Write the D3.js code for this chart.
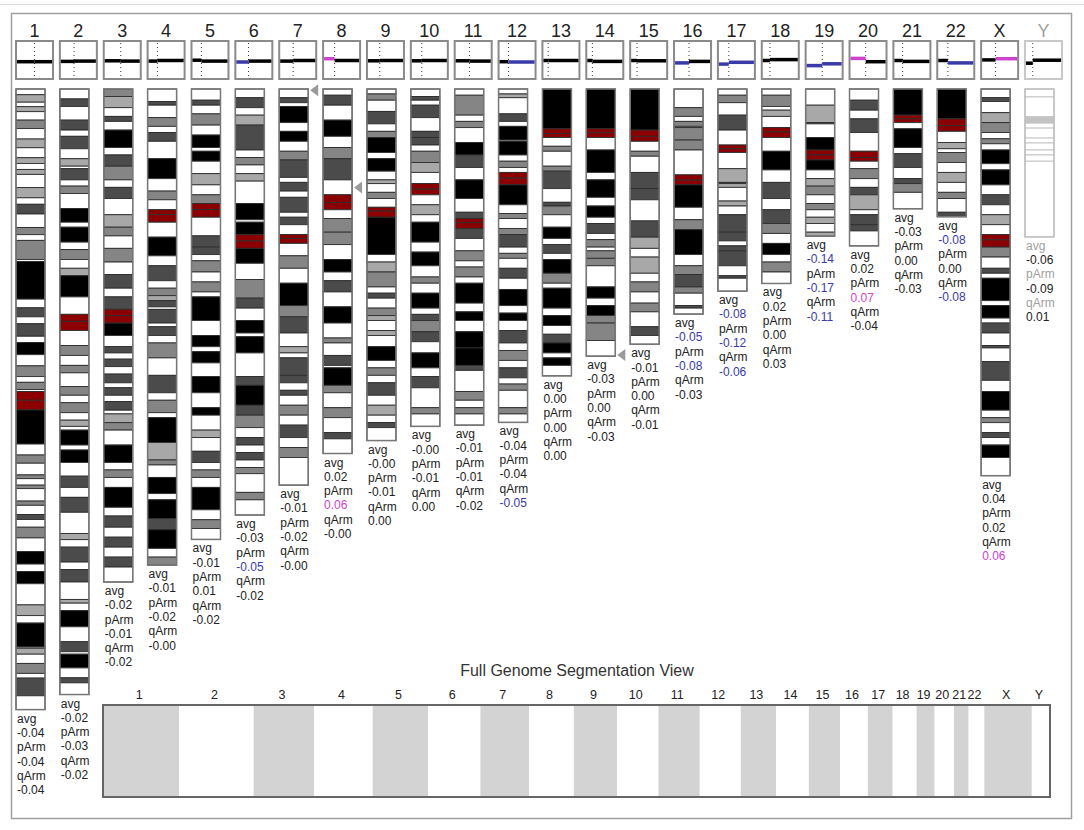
<!DOCTYPE html>
<html>
<head>
<meta charset="utf-8">
<script src="https://cdn.jsdelivr.net/npm/d3@7"></script>
<style>
body { margin: 0; background: #fff; }
svg { display: block; font-family: Arial, "Liberation Sans", sans-serif; }
</style>
</head>
<body>
<div id="karyogram"></div>
<script>
"use strict";

const chromNames = ["1", "2", "3", "4", "5", "6", "7", "8", "9", "10", "11", "12",
    "13", "14", "15", "16", "17", "18", "19", "20", "21", "22", "X", "Y"];

// lengths and centromeres in Mb
const chromLengths = [249.25, 243.2, 198.0, 191.2, 180.9, 171.1, 159.1, 146.4, 141.2, 135.5,
    135.0, 133.9, 115.2, 107.3, 102.5, 90.4, 81.2, 78.1, 59.1, 63.0, 48.1, 51.3, 155.3, 59.4];
const centromeres = [125.0, 93.3, 91.0, 50.4, 48.4, 61.0, 60.0, 45.6, 49.0, 40.2,
    53.7, 35.8, 17.9, 17.6, 19.0, 36.6, 24.0, 17.2, 26.5, 27.5, 12.0, 14.7, 60.6, 12.5];

// stain code + band end (Mb): n=gneg a=gpos25 m=gpos50 d=gpos75 b=gpos100/gvar c=acen
const bandStrings = [
    "n2.3 a5.3 n7.1 a9.1 n12.5 m15.9 n20.1 a23.6 n27.6 a29.9 n32.3 a34.3 n39.6 a43.7 n46.3 d50.2 n55.6 m58.5 n60.8 m68.5 n69.3 b84.4 n87.9 d91.5 n94.3 d99.3 n101.8 b106.7 n111.2 m115.5 n117.8 m120.7 n121.5 c125 c128.9 b142.6 n147 m150.3 n155 m156.5 n159.1 m160.5 n165.5 m167.2 n170.9 d172.9 n176 m180.3 n185.8 b190.8 n193.8 b198.7 n207.2 a211.5 n214.5 b224.1 n224.6 a227 n230.7 m234.7 n236.6 d243.7 n249.25",
    "n4 d7 n12.5 d16.5 n19 d24 n28 a31 n32 d36.5 n39 m42 n48 b53.5 n55.5 b61.5 n64.5 m68.5 n72 a75 b83.5 n90.5 c93.3 c97 n103 m107 n111 m114 n119.5 m123 n126 m130 n133 a135.5 n137 b143 n145 b150 n155.5 d160 n164 d170 n178.5 a181 n184 d190 n193 d198 n205 a206.5 n209.5 b216 n222 d226 n227 b232.5 n236.5 d238.5 n243.2",
    "m3 a7.5 n11 d13 n16.5 b23.5 n26.5 d31 m36.5 n39.5 d44 n50.5 a55.5 m59 n64 m69.5 n74.5 d80 n83.5 d88.5 c91 c94 b99 n103.5 d106 n108.5 d111.5 n114.5 d118 n120 d123 n125.5 d129 n130.5 a134 m137 n143 b150 n153 m156 n160 b168 n171.5 d176 n180 d184 n188 d192 n198",
    "n5 d6.5 n11.5 m15 n17.5 d21 n28 b36 n41 m44.5 n48.5 c50.4 c53.5 n59.5 b67 n71 d77 n80 m83 a85 d87.5 n88.5 d94 n95.5 d99 n102 m108 n115 d122 n125 m130 n132 b142 a149 m151 n156 b162.5 n165 b172.5 d177 b184.5 n188 m191.2",
    "n4.5 d6.5 n10 m14.5 n18.5 b23.5 n25 b29 n34 a38.5 n42.5 m46 c48.4 c51.5 n59 d63.5 d66.5 n69 m73.5 n77.5 m81.5 n83.5 b93 n99 b103.5 n105.5 b110 n115.5 b122 n128 b131 n137 a140 n145.5 d150 n153 m156 n160 b169 n173 m176.5 n180.9",
    "n3.5 d7.5 n10.5 a14.5 d24.5 n27.5 m30.5 n34 a37 n46 b52.5 n53.5 b58.5 c61 c64 b70 n76.5 m84 d88 n93 b98 n99.5 b106 n115.5 d119 b127 d131 m136 n140 d143 n146 d149 n152 m154.5 n162 m165 n171.1",
    "n3.5 d5.5 n7 b13.5 n17 b21 n25 m28.5 d35.5 n37.5 d41 n43.5 d49.5 n51.5 d54.5 n58.5 c60 c62 n67 m72 n78 b87 m91.5 d98 n103.5 a106 n108 d115 d118 n121 d123 n127 m131 n135 d140 n144 m148 n159.1",
    "n2.5 d6.5 n12.5 b19 n23.5 m28 d36.5 n42.5 c45.6 c48.5 n52 m57.5 m62.5 n68.5 b73.5 n77 d81.5 n87.5 b94 n100 m102 n107 d111 n112 b119 m122 n128 m132 n138 d140.5 n146.4",
    "n2 m4.5 n9 d14 n17 m19.5 b25.5 n28 b33 n36.5 a38 n41.5 m44 n47.5 c49 c51.5 b66.5 n69.5 a73.5 m79.5 n82 d84 n88 m91 a93 n97 a99 n103.5 b109 n112 m115 n118 d123 n127 a131 n134 d136 n141.2",
    "n3 d4.5 n6.5 d11.5 n17 d19.5 d22.5 n25 m29.5 a33.5 n38 c40.2 c42.5 n46.5 a50.5 n53.5 b61.5 n65.5 b71 n75.5 m78 n82 b88 n90.5 d93 m97.5 d101.5 n106 b112 n115.5 d120 n128 m130.5 n135.5",
    "n2.5 m10.5 n13 m15.5 n21.5 b26.5 d31.5 n36.5 b44 n49.5 d52 c53.7 c56 d60 n65 m69 n71.5 m75.5 n78 b86 n89.5 b93 n97.5 b104 b111 d113 n121.5 m125 n128 m130.5 n135",
    "n2 a3.5 n10 d13 n15 b20.5 n21 b26.5 n29 m31.5 n33.5 c35.8 c38.5 b46.5 n50 m52 n56 m58.5 d63.5 n66 m68 n72 d76 n80.5 b87 n90 b93 n97 d102 n105 m109 n112 d116 n118.5 m121 n128 m130.5 n133.9",
    "b16 c17.9 c19.5 n23 m25 n31 m33 d40 n45.5 d47 m50.5 n55.5 b60 n62.5 d66 n68.5 b74 m78 n80 b88 n91 b95 n98.5 d102 b106 n108 b111 n115.2",
    "b16 c17.6 c19.5 n24.5 b33.5 n36.5 b43.5 n47 b51.5 n54 d58 n60.5 m63.5 n65 m68 m71 n79.5 b84 n87 b91 m94 m101 n107.3",
    "b16.5 c19 c21 n25 m27 n33.5 d40 d44.5 n53 d59.5 a64 n67.5 a74 n77.5 m81.5 n86 m89.5 n95.5 d99 n102.5",
    "n7.5 m11 n13 m15 n15.5 m20.5 m24.5 n34.5 c36.6 c38.5 b47.5 n52.5 m56.5 b66.5 n71 m74.5 d79.5 m82 n87 d88 n90.4",
    "n2.5 m5.5 n10.5 d16.5 n22.5 c24 c25.5 n32 a37.5 d38 a39.5 n45 a47 n50.5 d57.5 d61 n63 d65 d71 n75 d76 n81.2",
    "n2.5 m7 n8.5 a11 n15.5 c17.2 c19.5 n25 b32.5 n37.5 d44 n48.5 d54 m58 n62 b66.5 n69.5 m73.5 n78.1",
    "n6.5 a13.5 d14 n19.5 b24.5 c26.5 c28.5 b32.5 n36 a39 m42.5 n46 m48.5 n51.5 a54 n57.5 a59.1",
    "n4.5 d8.5 n12 d17.5 n25 c27.5 c29 n32 m36 n39.5 d42.5 a48.5 n50.5 d54.5 d57 n63",
    "b10.5 c12 c13.5 n16 b23.5 n26 d31.5 n36 d38 m41.5 n48.1",
    "b12 c14.7 c17 n21.5 a24 n25.5 m29.5 n33.5 a37.5 n41.5 m44 n49.5 d51.3",
    "n3.5 d5 n9.5 a13.5 m17.5 n20 m22 n24.5 b30 n32.5 b38.5 n42.5 d46.5 n50.5 a54.5 n58.5 c60.6 c63.5 m67.5 n72 d74 n76 b85 n87 b92 n94 d98 n103 d104 n109.5 d117 n121.5 b129 n132 m134 n138 d140 n143 b148 n155.3",
    "n3.2 n11.2 a12.5 a13.7 n15.7 n19.7 n21.7 n24.5 n26.5 n29 n59.4"
];

const avgValues = ["-0.04", "-0.02", "-0.02", "-0.01", "-0.01", "-0.03", "-0.01", "0.02", "-0.00", "-0.00",
    "-0.01", "-0.04", "0.00", "-0.03", "-0.01", "-0.05", "-0.08", "0.02", "-0.14", "0.02", "-0.03", "-0.08", "0.04", "-0.06"];
const pArmValues = ["-0.04", "-0.03", "-0.01", "-0.02", "0.01", "-0.05", "-0.02", "0.06", "-0.01", "-0.01",
    "-0.01", "-0.04", "0.00", "0.00", "0.00", "-0.08", "-0.12", "0.00", "-0.17", "0.07", "0.00", "0.00", "0.02", "-0.09"];
const qArmValues = ["-0.04", "-0.02", "-0.02", "-0.00", "-0.02", "-0.02", "-0.00", "-0.00", "0.00", "0.00",
    "-0.02", "-0.05", "0.00", "-0.03", "-0.01", "-0.03", "-0.06", "0.03", "-0.11", "-0.04", "-0.03", "-0.08", "0.06", "0.01"];

const fadedChroms = ["Y"];
const markerChroms = ["7", "8", "14"];
const markerPositions = [0.5, 39.6, 106.8];

const stainColors = { n: "#ffffff", a: "#a8a8a8", m: "#858585", d: "#4b4b4b", b: "#000000", c: "#8b0000" };
const lossColor = "#3a3aa8";
const gainColor = "#cc44cc";
const threshold = 0.05;

const width = 1084;
const height = 830;
const boxW = 37;
const boxTop = 41;
const boxH = 38;
const barW = 29;

function parseBands(str) {
    let start = 0;
    return str.split(" ").map(tok => {
        const end = +tok.slice(1);
        const band = { stain: tok[0], start: start, end: end };
        start = end;
        return band;
    });
}

function valueColor(v, faded) {
    const n = +v;
    if (faded) return "#222";
    if (n <= -threshold) return lossColor;
    if (n >= threshold) return gainColor;
    return "#222";
}

const svg = d3.select("#karyogram")
    .append("svg")
    .attr("width", width)
    .attr("height", height);

svg.append("line")
    .attr("x1", 0).attr("x2", width)
    .attr("y1", 4.5).attr("y2", 4.5)
    .attr("stroke", "#dddddd");

svg.append("rect")
    .attr("x", 11.5).attr("y", 13.5)
    .attr("width", 1060).attr("height", 805)
    .attr("fill", "none")
    .attr("stroke", "#a0a0a0")
    .attr("stroke-width", 1.5);

const xScale = d3.scaleLinear().domain([0, chromNames.length - 1]).range([16, 1025]);
const yScale = d3.scaleLinear().domain([0, chromLengths[0]]).range([89, 709.6]);
const segScale = d3.scaleLinear().domain([-1, 1]).range([boxTop + 19.5 + 30, boxTop + 19.5 - 30]);

chromNames.forEach((name, i) => {
    const left = xScale(i);
    const len = chromLengths[i];
    const faded = fadedChroms.includes(name);
    const g = svg.append("g").attr("class", "chrom chr-" + name);

    // chromosome label
    g.append("text")
        .attr("x", left + boxW / 2)
        .attr("y", 37)
        .attr("text-anchor", "middle")
        .attr("font-size", 18)
        .attr("fill", faded ? "#a0a0a0" : "#222")
        .text(name);

    // mini segmentation box
    const segX = d3.scaleLinear().domain([0, len]).range([left, left + boxW]);
    g.append("rect")
        .attr("x", left).attr("y", boxTop)
        .attr("width", boxW).attr("height", boxH)
        .attr("fill", "#fff")
        .attr("stroke", faded ? "#c8c8c8" : "#8a8a8a")
        .attr("stroke-width", 2);
    g.append("line")
        .attr("x1", segX(centromeres[i])).attr("x2", segX(centromeres[i]))
        .attr("y1", boxTop + 2).attr("y2", boxTop + boxH - 1)
        .attr("stroke", "#333")
        .attr("stroke-dasharray", "1,3");

    const segments = [
        { from: 0, to: centromeres[i], v: pArmValues[i] },
        { from: centromeres[i], to: len, v: qArmValues[i] }
    ];
    g.selectAll("line.seg")
        .data(segments)
        .enter()
        .append("line")
        .attr("class", "seg")
        .attr("x1", d => segX(d.from) + (d.from === 0 ? 1 : 0))
        .attr("x2", d => segX(d.to) - (d.to === len ? 1 : 0))
        .attr("y1", d => segScale(+d.v))
        .attr("y2", d => segScale(+d.v))
        .attr("stroke", d => {
            const c = valueColor(d.v, faded);
            return c === "#222" ? "#000" : c;
        })
        .attr("stroke-width", 3.5);

    // ideogram bands
    const bands = parseBands(bandStrings[i]);
    g.selectAll("rect.band")
        .data(bands)
        .enter()
        .append("rect")
        .attr("class", "band")
        .attr("x", left)
        .attr("y", d => yScale(d.start))
        .attr("width", barW)
        .attr("height", d => yScale(d.end) - yScale(d.start))
        .attr("fill", d => faded && d.stain !== "n" ? "#c4c4c4" : stainColors[d.stain])
        .attr("stroke", faded ? "#c0c0c0" : "#2e2e2e")
        .attr("stroke-width", 0.9);

    g.append("rect")
        .attr("x", left).attr("y", yScale(0))
        .attr("width", barW).attr("height", yScale(len) - yScale(0))
        .attr("fill", "none")
        .attr("stroke", faded ? "#c0c0c0" : "#777")
        .attr("stroke-width", 1.5);

    // arm statistics
    const lines = [
        { t: "avg", label: true }, { t: avgValues[i] },
        { t: "pArm", label: true }, { t: pArmValues[i] },
        { t: "qArm", label: true }, { t: qArmValues[i] }
    ];
    const textTop = yScale(len) + 13;
    g.selectAll("text.stat")
        .data(lines)
        .enter()
        .append("text")
        .attr("class", "stat")
        .attr("x", left + 1)
        .attr("y", (d, k) => textTop + k * 14.3)
        .attr("font-size", 12)
        .attr("fill", d => d.label ? (faded ? "#a0a0a0" : "#222") : valueColor(d.t, faded))
        .text(d => d.t);
});

// position markers
markerChroms.forEach((name, k) => {
    const i = chromNames.indexOf(name);
    const tipX = xScale(i) + barW + 2;
    const tipY = yScale(markerPositions[k]);
    svg.append("path")
        .attr("d", `M${tipX},${tipY} L${tipX + 8},${tipY - 6} L${tipX + 8},${tipY + 6} Z`)
        .attr("fill", "#9a9a9a");
});

// full genome segmentation view
const total = d3.sum(chromLengths);
const starts = d3.cumsum([0].concat(chromLengths.slice(0, -1)));
const gx = d3.scaleLinear().domain([0, total]).range([103, 1050]);

svg.append("text")
    .attr("x", 577)
    .attr("y", 676)
    .attr("text-anchor", "middle")
    .attr("font-size", 16)
    .attr("fill", "#333")
    .text("Full Genome Segmentation View");

const genome = svg.append("g").attr("class", "genome");
genome.selectAll("rect.block")
    .data(chromNames)
    .enter()
    .append("rect")
    .attr("class", "block")
    .attr("x", (d, i) => gx(starts[i]))
    .attr("y", 705)
    .attr("width", (d, i) => gx(starts[i] + chromLengths[i]) - gx(starts[i]))
    .attr("height", 92)
    .attr("fill", (d, i) => i % 2 === 0 ? "#d3d3d3" : "#ffffff");

genome.selectAll("text.blocklabel")
    .data(chromNames)
    .enter()
    .append("text")
    .attr("class", "blocklabel")
    .attr("x", (d, i) => gx(starts[i] + chromLengths[i] / 2) - 2)
    .attr("y", 699)
    .attr("text-anchor", "middle")
    .attr("font-size", 12.5)
    .attr("fill", "#222")
    .text(d => d);

genome.append("rect")
    .attr("x", 103).attr("y", 705)
    .attr("width", 947).attr("height", 92)
    .attr("fill", "none")
    .attr("stroke", "#666")
    .attr("stroke-width", 2);
</script>
</body>
</html>
